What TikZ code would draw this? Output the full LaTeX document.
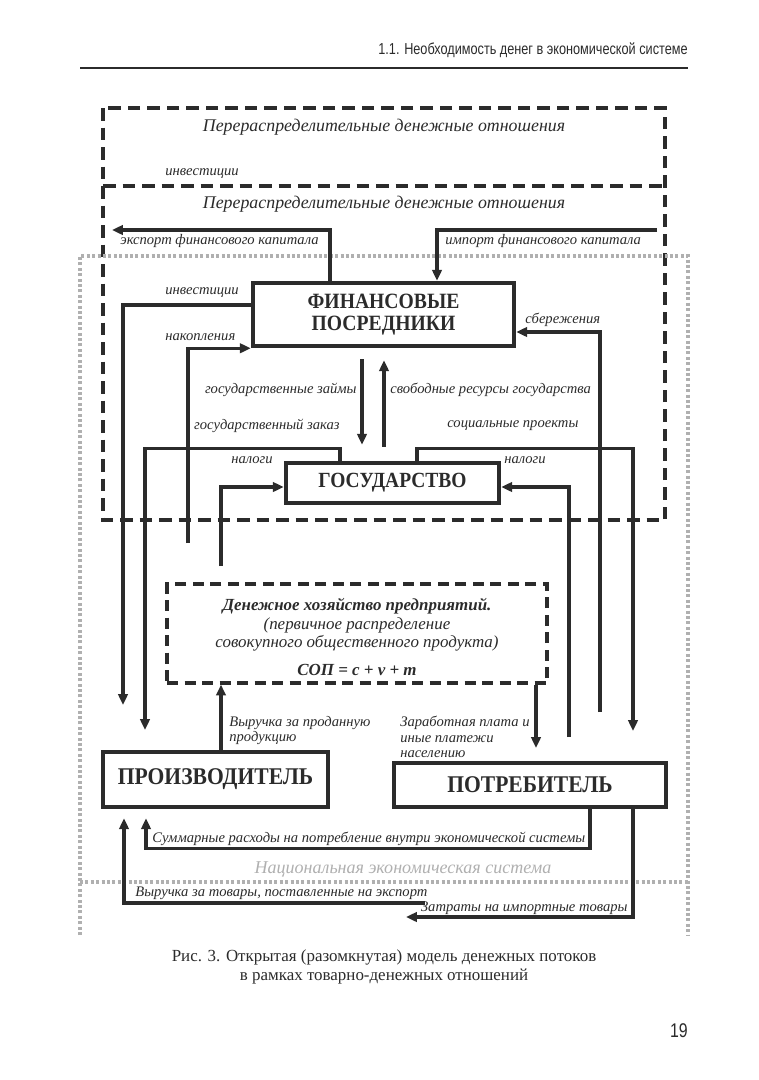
\documentclass[tikz,border=0pt]{standalone}
\usepackage{fontspec}
\setmainfont{Liberation Serif}
\newfontfamily\headfont[FakeStretch=0.8]{Liberation Sans}
\newfontfamily\agentfont[FakeStretch=0.9]{Liberation Serif}
\usetikzlibrary{arrows.meta}
\definecolor{inkcolor}{HTML}{2B2B2B}
\definecolor{natcolor}{HTML}{B0B0B0}
\newlength{\pxu}
\setlength{\pxu}{0.0195cm}

\begin{document}
\begin{tikzpicture}[
  x=\pxu, y=-\pxu,
  every node/.style={text=inkcolor},
  agentbox/.style={draw=inkcolor, line width=4.5\pxu, fill=white, inner sep=0pt, align=center, font=\agentfont\bfseries\fontsize{13.3}{14}\selectfont},
  firmbox/.style={draw=inkcolor, line width=3.2\pxu, dash pattern=on 11\pxu off 6.5\pxu, inner sep=0pt, align=center, font=\itshape\fontsize{9.4}{10.4}\selectfont},
  flow/.style={draw=inkcolor, line width=3.2\pxu, -{Triangle[length=6pt,width=5.2pt]}},
  flowlabel/.style={inner sep=0pt, align=left, font=\itshape\fontsize{8.1}{8.6}\selectfont},
  regionline/.style={draw=inkcolor, line width=3.4\pxu, dash pattern=on 12.5\pxu off 7\pxu},
  natline/.style={draw=natcolor, line width=3.5\pxu, dash pattern=on 3\pxu off 2.4\pxu},
  regiontitle/.style={inner sep=0pt, font=\itshape\fontsize{9.9}{12}\selectfont}
]
\fill[white] (0,0) rectangle (759,1080);
\useasboundingbox (0,0) rectangle (759,1080);

\node[anchor=east, inner sep=0pt, font=\headfont\fontsize{8.8}{10}\selectfont] (header) at (688,50) {1.1. Необходимость денег в экономической системе};
\draw[inkcolor, line width=1.6\pxu] (80,68) -- (688,68);

\draw[regionline] (103,108) rectangle (665,520);
\draw[regionline] (103,186) -- (665,186);
\draw[natline] (80,935) -- (80,256) -- (688,256) -- (688,935);
\draw[natline] (80,882) -- (688,882);

\node[regiontitle] (titleOuter) at (384,127) {Перераспределительные денежные отношения};
\node[flowlabel, anchor=west] (lblInvTop) at (165,174) {инвестиции};
\node[regiontitle] (titleInner) at (384,204) {Перераспределительные денежные отношения};
\node[regiontitle, text=natcolor, font=\itshape\fontsize{10}{12}\selectfont] (titleNat) at (403,869) {Национальная экономическая система};

\node[agentbox, minimum width=261\pxu, minimum height=63\pxu, font=\agentfont\bfseries\fontsize{12.1}{11.8}\selectfont] (fin) at (383.5,314.5) {ФИНАНСОВЫЕ\\ПОСРЕДНИКИ};
\node[agentbox, minimum width=213\pxu, minimum height=40\pxu, font=\agentfont\bfseries\fontsize{12}{12}\selectfont] (gov) at (392.5,483) {ГОСУДАРСТВО};
\node[firmbox, minimum width=380\pxu, minimum height=99\pxu] (firm) at (357,633.5) {};
\node[align=center, inner sep=0pt, font=\itshape\fontsize{9.4}{10.4}\selectfont] (firmText) at (357,637) {{\bfseries Денежное хозяйство предприятий.}\\(первичное распределение\\совокупного общественного продукта)\\[5pt]{\bfseries СОП = c + v + m}};
\node[agentbox, minimum width=225\pxu, minimum height=55\pxu] (prod) at (215.5,779.5) {ПРОИЗВОДИТЕЛЬ};
\node[agentbox, minimum width=272\pxu, minimum height=44\pxu] (cons) at (530,785) {ПОТРЕБИТЕЛЬ};

\coordinate (expEnd) at (112,230);
\coordinate (impStart) at (657,230);
\coordinate (invEnd) at (123,705);
\coordinate (orderEnd) at (145,730);
\coordinate (socialEnd) at (633,731);
\coordinate (accStart) at (188,543);
\coordinate (taxLStart) at (221,566);
\coordinate (taxRStart) at (569,737);
\coordinate (saveStart) at (600,712);
\coordinate (wageEnd) at (536,748);
\coordinate (expGoodsStart) at (425,903);
\coordinate (impGoodsEnd) at (406,917);

\draw[flow] (fin.north -| 330,0) |- (expEnd);
\draw[flow] (impStart) -| (fin.north -| 437,0);
\draw[flow] (fin.west |- 0,305) -| (invEnd);
\draw[flow] (accStart) |- (fin.south west);
\draw[flow] (saveStart) |- (fin.east |- 0,332);
\draw[flow, shorten <=11\pxu, shorten >=16\pxu] (fin.south -| 362,0) -- (gov.north -| 362,0);
\draw[flow, shorten <=14\pxu, shorten >=12\pxu] (gov.north -| 384,0) -- (fin.south -| 384,0);
\draw[flow] (gov.north -| 340,0) -- ++(0,-12) -| (orderEnd);
\draw[flow] (gov.north -| 417,0) -- ++(0,-12) -| (socialEnd);
\draw[flow] (taxLStart) |- (gov.west |- 0,487);
\draw[flow] (taxRStart) |- (gov.east |- 0,487);
\draw[flow] (prod.north -| 221,0) -- (firm.south -| 221,0);
\draw[flow] (firm.south -| 536,0) -- (wageEnd);
\draw[flow, shorten >=9\pxu] (cons.south -| 590,0) -- ++(0,39) -| (prod.south -| 146,0);
\draw[flow, shorten >=9\pxu] (expGoodsStart) -| (prod.south -| 124,0);
\draw[flow] (cons.south -| 633,0) |- (impGoodsEnd);

\node[flowlabel, anchor=west] (lblExport) at (120,241) {экспорт финансового капитала};
\node[flowlabel, anchor=west] (lblImport) at (445,241) {импорт финансового капитала};
\node[flowlabel, anchor=west] (lblInv) at (165,293) {инвестиции};
\node[flowlabel, anchor=west] (lblAcc) at (165,337) {накопления};
\node[flowlabel, anchor=west] (lblSave) at (525,320) {сбережения};
\node[flowlabel, anchor=east] (lblLoan) at (357,390) {государственные займы};
\node[flowlabel, anchor=west] (lblFree) at (390,390) {свободные ресурсы государства};
\node[flowlabel, anchor=east] (lblOrder) at (340,426) {государственный заказ};
\node[flowlabel, anchor=west] (lblSocial) at (447,426) {социальные проекты};
\node[flowlabel, anchor=west] (lblTaxL) at (231,460) {налоги};
\node[flowlabel, anchor=west] (lblTaxR) at (504,460) {налоги};
\node[flowlabel, anchor=north west] (lblRevenue) at (229,716) {Выручка за проданную\\продукцию};
\node[flowlabel, anchor=north west] (lblWage) at (400,716) {Заработная плата и\\иные платежи\\населению};
\node[flowlabel, anchor=west] (lblSpend) at (152,839) {Суммарные расходы на потребление внутри экономической системы};
\node[flowlabel, anchor=west] (lblExpGoods) at (135,893) {Выручка за товары, поставленные на экспорт};
\node[flowlabel, anchor=east] (lblImpGoods) at (628,908) {Затраты на импортные товары};

\node[align=center, inner sep=0pt, font=\fontsize{9.4}{10.5}\selectfont] (caption) at (384,967) {Рис. 3. Открытая (разомкнутая) модель денежных потоков\\в рамках товарно-денежных отношений};
\node[anchor=east, inner sep=0pt, font=\headfont\fontsize{11}{12}\selectfont] (pagenum) at (688,1031) {19};
\end{tikzpicture}
\end{document}
